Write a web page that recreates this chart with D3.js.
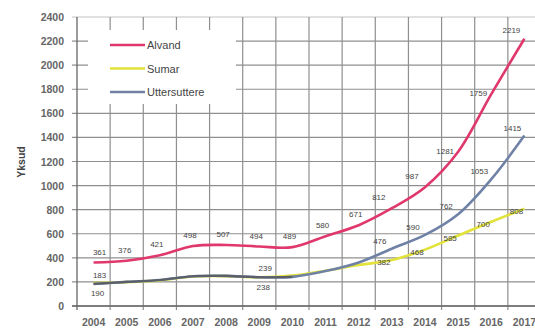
<!DOCTYPE html>
<html><head><meta charset="utf-8">
<script src="https://cdn.jsdelivr.net/npm/d3@7/dist/d3.min.js"></script>
<style>body{margin:0;background:#fff}svg{display:block;font-family:"Liberation Sans",Arial,sans-serif}</style>
</head><body>
<svg id="c" width="535" height="329"></svg>
<script>
const years = [2004,2005,2006,2007,2008,2009,2010,2011,2012,2013,2014,2015,2016,2017];
const alvand = [361,376,421,498,507,494,489,580,671,812,987,1281,1759,2219];
const sumar  = [190,198,213,245,248,238,252,292,340,382,468,585,700,808];
const utter  = [183,200,216,247,250,239,242,290,362,476,590,762,1053,1415];
const seriesNames = ["Alvand","Sumar","Uttersuttere"];
const seriesColors = ["#e0386c","#e2e23a","#6f82a6"];
const yTicks = [0,200,400,600,800,1000,1200,1400,1600,1800,2000,2200,2400];
const yTitle = "Yksud";
// which points carry a value label
const labelAlvand = years.map(()=>true);
const labelSumar = [true,false,false,false,false,true,false,false,false,true,true,true,true,true];
const labelUtter = [true,false,false,false,false,true,false,false,false,true,true,true,true,true];

const svg = d3.select("#c");
const L=77, R=541, T=17, B=306;
const x = d3.scaleBand().domain(years).range([L,R]).padding(0);
const cx = d => x(d)+x.bandwidth()/2;
const y = d3.scaleLinear().domain([0,2400]).range([B,T]);

const g = svg.append("g");
// horizontal grid
g.selectAll("line.h").data(yTicks).join("line")
  .attr("x1",L-5).attr("x2",R).attr("y1",d=>y(d)).attr("y2",d=>y(d))
  .attr("stroke",d=>d===2400?"#c4c4c4":"#8f8f8f").attr("stroke-width",1.2);
// vertical grid at band edges
g.selectAll("line.v").data(years.slice(1)).join("line")
  .attr("x1",d=>x(d)).attr("x2",d=>x(d)).attr("y1",T).attr("y2",B+4)
  .attr("stroke","#8f8f8f").attr("stroke-width",1.2);
// axes lines
g.append("line").attr("x1",L).attr("x2",L).attr("y1",T).attr("y2",B+4).attr("stroke","#666").attr("stroke-width",1.3);
g.append("line").attr("x1",L-5).attr("x2",R).attr("y1",B).attr("y2",B).attr("stroke","#666").attr("stroke-width",1.3);

// y tick labels
g.selectAll("text.yt").data(yTicks).join("text")
  .attr("x",64).attr("y",d=>y(d)+4).attr("text-anchor","end")
  .attr("font-size",10.5).attr("font-weight","bold").attr("fill","#666").text(d=>d);
// x tick labels
g.selectAll("text.xt").data(years).join("text")
  .attr("x",d=>cx(d)).attr("y",326).attr("text-anchor","middle")
  .attr("font-size",10.5).attr("font-weight","bold").attr("fill","#666").text(d=>d);
// y title
svg.append("text").attr("transform","translate(25,162) rotate(-90)")
  .attr("text-anchor","middle").attr("font-size",10.5).attr("font-weight","bold").attr("fill","#444").text(yTitle);

// legend box (hides grid)
svg.append("rect").attr("x",88).attr("y",30).attr("width",148).attr("height",74).attr("fill","#fff");

const line = d3.line().x((d,i)=>cx(years[i])).y(d=>y(d)).curve(d3.curveCatmullRom.alpha(0.5));
const data = [alvand,sumar,utter];
// draw order: yellow, blue, red
[1,2,0].forEach(k=>{
  svg.append("path").attr("d",line(data[k])).attr("fill","none")
    .attr("stroke",seriesColors[k]).attr("stroke-width",2.6);
});
// dark overlay where blue & yellow coincide early on
svg.append("path").attr("d",line(utter.slice(0,7))).attr("fill","none")
  .attr("stroke","#5a5f6a").attr("stroke-width",2.2);

// legend
seriesNames.forEach((n,i)=>{
  const yy = 45 + i*23.5;
  svg.append("line").attr("x1",110).attr("x2",145).attr("y1",yy).attr("y2",yy)
    .attr("stroke",seriesColors[i]).attr("stroke-width",2.6);
  svg.append("text").attr("x",147).attr("y",yy+4).attr("font-size",11)
    .attr("fill","#444").text(n);
});

// value labels
const lab = (vals, flags, dxf, dyf) => {
  vals.forEach((v,i)=>{
    if(!flags[i]) return;
    svg.append("text").attr("x",cx(years[i])+dxf(i)).attr("y",y(v)+dyf(i))
      .attr("text-anchor","middle").attr("font-size",8).attr("fill","#444").text(v);
  });
};
lab(alvand, labelAlvand, i=> i<2 ? (i===0?6:-2) : (i<9 ? -3 : -13), i=> i<11 ? -8 : (i===13?-6:2));
lab(utter, labelUtter, i=> i<9 ? 6 : -12, i=> i<9 ? -6 : -5);
lab(sumar, labelSumar, i=> i<9 ? 4 : -8, i=> i<9 ? 13 : 5);
</script>
</body></html>
